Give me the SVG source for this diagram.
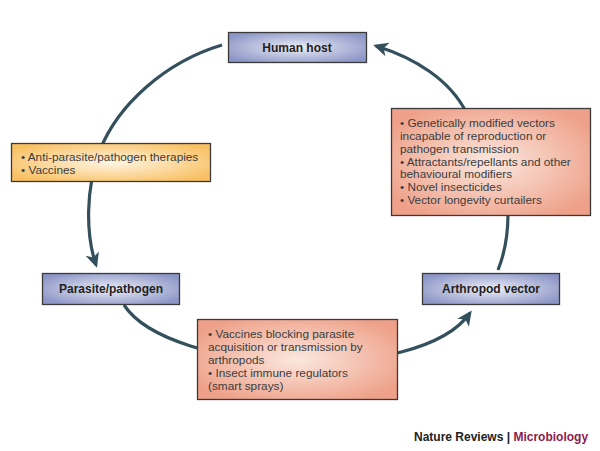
<svg xmlns="http://www.w3.org/2000/svg" width="600" height="451" viewBox="0 0 600 451">
<style>
.conn{fill:none;stroke:#34505c;stroke-width:3.2}
.box{stroke:#3a3a3a;stroke-width:1.3}
.lbl{font-family:"Liberation Sans",Arial,sans-serif;font-size:12px;font-weight:bold;fill:#222;text-anchor:middle}
.bul{font-family:"Liberation Sans",Arial,sans-serif;font-size:11.8px;fill:#3c3c3c}
.foot{font-family:"Liberation Sans",Arial,sans-serif;font-size:12px;font-weight:bold}
</style>
<defs>
<radialGradient id="gBlue" cx="50%" cy="50%" r="60%">
<stop offset="0" stop-color="#eceef7"/>
<stop offset="1" stop-color="#8c96c6"/>
</radialGradient>
<radialGradient id="gYel" cx="50%" cy="50%" r="60%">
<stop offset="0" stop-color="#fff6e4"/>
<stop offset="1" stop-color="#f8c063"/>
</radialGradient>
<radialGradient id="gSal" cx="50%" cy="50%" r="60%">
<stop offset="0" stop-color="#fbe8df"/>
<stop offset="1" stop-color="#eea088"/>
</radialGradient>
<marker id="arr" markerUnits="userSpaceOnUse" orient="auto" markerWidth="18" markerHeight="16" viewBox="-14 -8 18 16" refX="0" refY="0">
<path d="M3,0 L-12,-7 L-8,0 L-12,7 Z" fill="#34505c"/>
</marker>
</defs>
<rect width="600" height="451" fill="#ffffff"/>
<g id="connectors">
<path class="conn" d="M222,45 C165,62 118,105 100,150 C85,190 86,235 96,265" marker-end="url(#arr)"/>
<path class="conn" d="M124,305 C170,375 420,385 470,313" marker-end="url(#arr)"/>
<path class="conn" d="M498,270 C504,255 508,235 508,214"/>
<path class="conn" d="M466,112 C450,80 415,58 376,46" marker-end="url(#arr)"/>
</g>
<g id="human-host">
<rect class="box" x="228.5" y="32.5" width="138" height="30" fill="url(#gBlue)"/>
<text class="lbl" x="297" y="52">Human host</text>
</g>
<g id="parasite-pathogen">
<rect class="box" x="42.5" y="273.5" width="137" height="31" fill="url(#gBlue)"/>
<text class="lbl" x="111" y="293">Parasite/pathogen</text>
</g>
<g id="arthropod-vector">
<rect class="box" x="422.5" y="273.5" width="137" height="31" fill="url(#gBlue)"/>
<text class="lbl" x="491" y="293">Arthropod vector</text>
</g>
<g id="therapies">
<rect class="box" x="11.5" y="143.5" width="199" height="38" fill="url(#gYel)"/>
<text class="bul" x="21" y="161">• Anti-parasite/pathogen therapies</text>
<text class="bul" x="21" y="174">• Vaccines</text>
</g>
<g id="vector-control">
<rect class="box" x="391.5" y="108.5" width="199" height="107" fill="url(#gSal)"/>
<text class="bul" x="400" y="127">• Genetically modified vectors</text>
<text class="bul" x="400" y="140">incapable of reproduction or</text>
<text class="bul" x="400" y="152.5">pathogen transmission</text>
<text class="bul" x="400" y="165.5">• Attractants/repellants and other</text>
<text class="bul" x="400" y="178">behavioural modifiers</text>
<text class="bul" x="400" y="191">• Novel insecticides</text>
<text class="bul" x="400" y="204">• Vector longevity curtailers</text>
</g>
<g id="transmission-blocking">
<rect class="box" x="197.5" y="319.5" width="200" height="80" fill="url(#gSal)"/>
<text class="bul" x="208" y="338">• Vaccines blocking parasite</text>
<text class="bul" x="208" y="351">acquisition or transmission by</text>
<text class="bul" x="208" y="364">arthropods</text>
<text class="bul" x="208" y="377">• Insect immune regulators</text>
<text class="bul" x="208" y="390">(smart sprays)</text>
</g>
<text class="foot" x="414" y="441"><tspan fill="#222">Nature Reviews | </tspan><tspan fill="#8c1b4c">Microbiology</tspan></text>
</svg>
